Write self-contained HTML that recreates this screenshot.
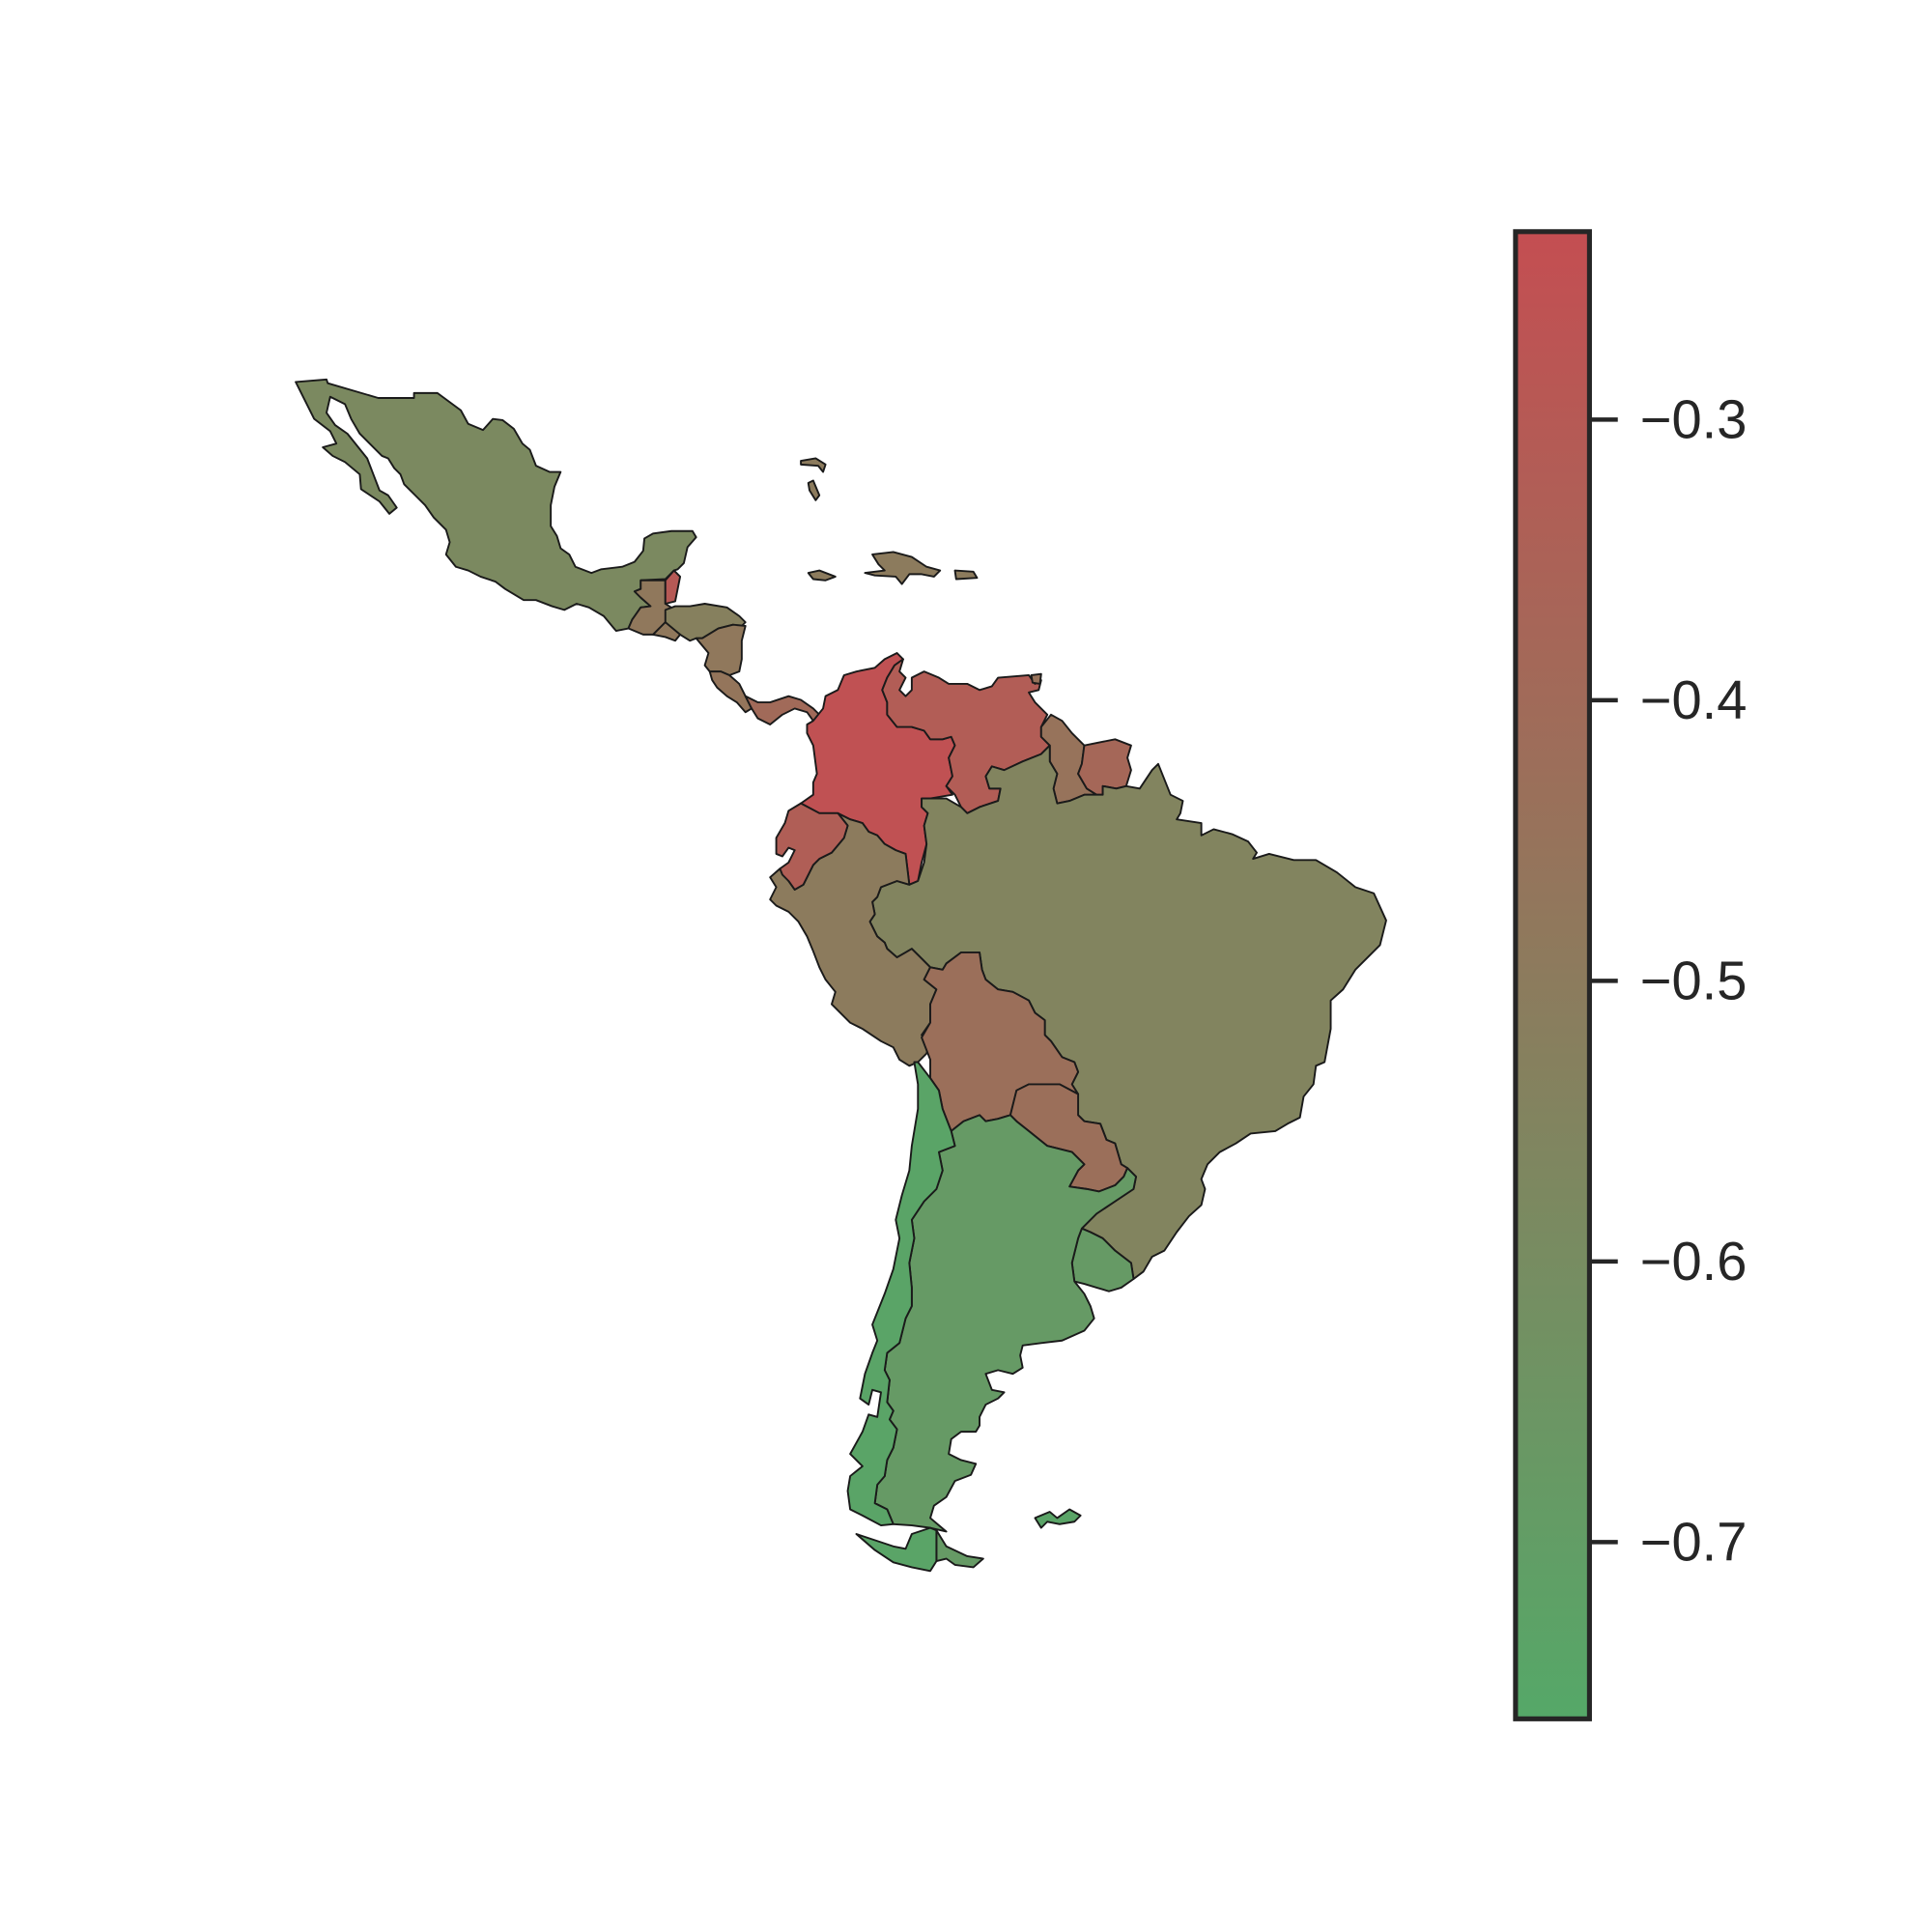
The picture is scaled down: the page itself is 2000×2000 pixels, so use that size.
<!DOCTYPE html>
<html><head><meta charset="utf-8"><style>html,body{margin:0;padding:0;background:#fff}svg{display:block}</style></head>
<body>
<svg id="chart" width="2000" height="2000" viewBox="0 0 1568 1568" xmlns="http://www.w3.org/2000/svg">
<defs><linearGradient id="cbg" x1="0" y1="1" x2="0" y2="0"><stop offset="0" stop-color="#55a868"/><stop offset="1" stop-color="#c44e52"/></linearGradient></defs>
<rect width="1568" height="1568" fill="#fff"/>
<g id="map"></g>
<g id="cbar"></g>
</svg>
<script>
const countries = ["Mexico","Guatemala","Belize","Honduras","El Salvador","Nicaragua","Costa Rica","Panama","Colombia","Venezuela","Guyana","Suriname","Brazil","Peru","Ecuador","Bolivia","Paraguay","Uruguay","Argentina","Argentina TdF","Chile","Chile TdF","Falklands","Bahamas 1","Bahamas 2","Jamaica","Hispaniola","Puerto Rico","Trinidad"];
const values = [-0.58,-0.48,-0.30,-0.53,-0.48,-0.48,-0.46,-0.40,-0.25,-0.32,-0.45,-0.38,-0.55,-0.50,-0.33,-0.43,-0.43,-0.68,-0.68,-0.68,-0.74,-0.74,-0.74,-0.50,-0.50,-0.50,-0.50,-0.50,-0.45];
const tickValues = [-0.3,-0.4,-0.5,-0.6,-0.7];
const tickLabels = ["\u22120.3","\u22120.4","\u22120.5","\u22120.6","\u22120.7"];
const vmin = -0.763, vmax = -0.233;

const shapes = {
"Mexico":"240,310 265,308 266,311 307,323 336,323 336,319 355,319 374,333 380,344 392,349 400,340 408,341 417,348 424,360 430,365 435,378 446,383 455,383 450,395 447,410 447,427 452,435 455,445 462,450 467,460 480,465 488,462 505,460 515,456 522,447 523,437 530,433 545,431 562,431 565,436 558,444 555,457 550,462 547,463 540,470 520,471 520,478 515,480 520,485 528,492 520,493 513,503 510,510 500,512 490,500 478,493 468,490 458,495 448,492 435,487 425,487 410,478 402,472 390,468 380,463 370,460 362,450 365,440 362,430 352,420 345,410 337,402 328,393 325,385 320,380 315,372 310,370 300,360 292,352 285,340 280,328 268,322 265,335 272,345 282,352 290,362 298,372 303,385 308,398 315,402 322,412 316,417 308,407 293,397 292,385 280,375 270,370 262,363 273,360 268,350 255,340",
"Guatemala":"520,471 540,471 540,490 548,495 540,505 530,515 522,515 510,510 513,503 520,493 528,492 520,485 515,480 520,478",
"Belize":"540,471 547,463 552,468 548,488 540,490",
"Honduras":"540,495 548,492 560,492 572,490 590,493 600,500 605,505 600,510 595,507 583,510 570,518 565,518 560,520 552,515 545,510 540,505",
"El Salvador":"530,515 540,505 552,515 548,520 540,517",
"Nicaragua":"565,518 570,518 583,510 595,507 605,508 602,520 602,535 600,545 592,548 585,545 576,545 572,540 575,530",
"Costa Rica":"576,545 585,545 592,548 600,555 605,565 610,575 605,578 598,570 590,565 582,558 578,552",
"Panama":"605,565 615,570 625,570 640,565 650,568 660,575 668,583 660,585 655,578 645,575 635,580 625,588 615,583 610,575",
"Colombia":"660,585 668,575 670,565 680,560 685,548 695,545 710,542 718,535 728,530 733,535 726,540 720,550 716,560 720,570 720,580 728,590 740,590 750,593 755,600 765,600 772,598 775,605 770,615 773,630 768,638 773,645 755,648 748,648 748,655 753,660 750,670 752,685 748,700 745,715 738,718 735,693 727,690 718,685 712,678 705,675 700,668 690,665 680,660 665,665 655,658 650,652 660,645 660,635 663,628 660,605 655,595 655,588",
"Venezuela":"720,550 726,540 733,535 730,545 735,550 730,560 735,565 740,560 740,550 750,545 762,550 770,555 785,555 795,560 805,557 810,550 835,548 840,555 845,552 843,560 835,562 840,570 850,580 845,590 845,598 852,605 845,612 830,618 815,625 805,622 800,630 803,640 812,640 810,650 795,655 785,660 780,655 775,645 768,638 773,630 770,615 775,605 772,598 765,600 755,600 750,593 740,590 728,590 720,580 720,570 716,560",
"Guyana":"845,590 853,580 862,585 870,595 880,605 878,620 875,628 882,640 890,645 880,645 868,650 858,652 855,640 858,628 852,618 852,605 845,598",
"Suriname":"880,605 895,602 905,600 918,605 915,615 918,625 914,638 906,640 895,638 895,645 890,645 882,640 875,628 878,620",
"Brazil":"738,718 745,715 750,700 752,685 750,670 753,660 748,655 748,648 768,648 780,655 785,660 795,655 810,650 812,640 803,640 800,630 805,622 815,625 830,618 845,612 852,605 852,618 858,628 855,640 858,652 868,650 880,645 890,645 895,645 895,638 906,640 914,638 925,640 935,625 940,620 950,645 960,650 958,660 955,665 975,668 975,678 985,673 1000,677 1013,683 1020,692 1017,697 1030,693 1050,698 1068,698 1085,708 1100,720 1115,725 1125,747 1120,767 1100,787 1090,803 1080,812 1080,835 1075,862 1068,865 1066,880 1058,890 1055,907 1045,912 1035,918 1015,920 1003,928 990,935 980,945 975,957 978,965 975,978 965,987 955,1000 945,1015 935,1020 928,1032 920,1038 918,1025 905,1015 895,1005 885,1000 878,997 890,985 905,975 920,965 922,955 915,948 910,945 905,928 898,925 893,912 880,910 875,905 875,888 870,880 875,870 872,862 862,858 853,845 848,840 848,828 840,822 835,812 822,805 810,803 800,795 797,787 795,773 780,773 768,782 765,787 755,785 748,778 740,770 735,773 728,777 720,770 718,765 712,760 706,748 710,742 708,732 712,728 715,720 728,715",
"Peru":"650,652 655,658 665,665 680,660 690,665 700,668 705,675 712,678 718,685 727,690 735,693 738,718 728,715 715,720 712,728 708,732 710,742 706,748 712,760 718,765 720,770 728,777 735,773 740,770 748,778 755,785 750,795 760,803 755,815 755,830 748,840 755,845 752,855 745,862 738,865 730,860 725,850 715,845 700,835 690,830 680,820 675,815 678,805 670,795 665,785 660,772 655,760 648,748 640,740 630,735 625,730 630,720 625,712 633,705 640,715 645,722 652,718 660,702 665,697 675,692 685,680 688,670 680,660 665,660",
"Ecuador":"630,693 630,680 637,668 640,658 650,652 665,660 680,660 688,670 685,680 675,692 665,697 660,702 652,718 645,722 640,715 635,710 633,705 640,700 645,690 640,688 635,695",
"Bolivia":"755,785 765,787 768,782 780,773 795,773 797,787 800,795 810,803 822,805 835,812 840,822 848,828 848,840 853,845 862,858 872,862 875,870 870,880 875,888 860,880 835,880 825,885 820,905 810,908 800,910 795,905 782,910 772,918 765,900 762,885 755,875 755,860 748,842 755,830 755,815 760,803 750,795",
"Paraguay":"825,885 835,880 860,880 875,888 875,905 880,910 893,912 898,925 905,928 910,945 915,948 912,955 905,962 892,967 882,965 868,963 875,950 880,945 870,935 850,930 835,918 825,910 820,905",
"Uruguay":"878,997 885,1000 895,1005 905,1015 918,1025 920,1038 910,1045 900,1048 890,1045 880,1042 872,1040 870,1025 875,1005",
"Argentina":"772,918 782,910 795,905 800,910 810,908 820,905 825,910 835,918 850,930 870,935 880,945 875,950 868,963 882,965 892,967 905,962 912,955 915,948 922,955 920,965 905,975 890,985 878,997 875,1005 870,1025 872,1040 880,1050 885,1060 888,1070 880,1080 862,1088 845,1090 830,1092 828,1100 830,1110 822,1115 810,1112 800,1115 805,1128 815,1130 810,1135 800,1140 795,1150 795,1157 792,1162 780,1162 772,1168 770,1180 780,1185 792,1188 788,1197 775,1202 768,1215 758,1222 755,1232 768,1243 755,1240 740,1238 725,1237 720,1225 710,1220 712,1205 718,1198 720,1185 725,1175 728,1160 722,1152 725,1145 720,1138 722,1120 718,1112 720,1098 730,1090 735,1070 740,1060 740,1045 738,1025 742,1005 740,990 750,975 760,965 765,950 762,935 775,930",
"Argentina TdF":"760,1242 768,1255 785,1263 798,1265 790,1272 775,1270 768,1265 760,1267",
"Chile":"742,862 745,862 755,875 762,885 765,900 772,918 775,930 762,935 765,950 760,965 750,975 740,990 742,1005 738,1025 740,1045 740,1060 735,1070 730,1090 720,1098 718,1112 722,1120 720,1138 725,1145 722,1152 728,1160 725,1175 720,1185 718,1198 712,1205 710,1220 720,1225 725,1237 715,1238 700,1230 690,1225 688,1210 690,1198 700,1190 690,1180 700,1162 705,1148 712,1150 715,1130 708,1128 705,1140 698,1135 702,1115 708,1098 712,1088 708,1075 718,1050 725,1030 730,1005 727,990 732,970 738,950 740,930 745,900 745,880",
"Chile TdF":"695,1245 710,1250 725,1255 735,1257 740,1245 755,1240 760,1242 760,1267 755,1275 740,1272 725,1268 710,1258",
"Falklands":"840,1232 852,1227 858,1232 868,1225 877,1230 872,1235 860,1237 850,1235 845,1240",
"Bahamas 1":"650,374 662,372 670,377 668,383 664,378 650,377",
"Bahamas 2":"656,392 660,390 665,402 662,406 657,398",
"Jamaica":"656,465 665,463 678,468 670,471 660,470",
"Hispaniola":"708,450 725,448 740,452 752,460 763,463 758,468 748,466 738,466 732,474 727,468 710,467 702,465 718,463 713,458",
"Puerto Rico":"775,463 790,464 793,469 776,470",
"Trinidad":"837,548 845,547 844,555 838,554"
};

const NS = "http://www.w3.org/2000/svg";
function colorOf(v){
  let t = (v - vmin) / (vmax - vmin); t = Math.max(0, Math.min(1, t));
  const a=[0x55,0xa8,0x68], b=[0xc4,0x4e,0x52];
  return "rgb(" + a.map((c,i)=>Math.round(c+(b[i]-c)*t)).join(",") + ")";
}
const cbTop = 188, cbBot = 1395;
function yScale(v){ return cbBot - (v - vmin) / (vmax - vmin) * (cbBot - cbTop); }

const map = document.getElementById("map");
countries.forEach((name, i) => {
  const p = document.createElementNS(NS, "polygon");
  p.setAttribute("points", shapes[name]);
  p.setAttribute("fill", colorOf(values[i]));
  p.setAttribute("stroke", "#1a1a1a");
  p.setAttribute("stroke-width", "1.5");
  p.setAttribute("stroke-linejoin", "round");
  
  
  map.appendChild(p);
});

const cb = document.getElementById("cbar");
const r = document.createElementNS(NS, "rect");
r.setAttribute("x", 1230); r.setAttribute("y", cbTop); r.setAttribute("width", 60); r.setAttribute("height", cbBot - cbTop);
r.setAttribute("fill", "url(#cbg)"); r.setAttribute("stroke", "#262626"); r.setAttribute("stroke-width", "4");


cb.appendChild(r);
tickValues.forEach((v, i) => {
  const y = yScale(v);
  const l = document.createElementNS(NS, "line");
  l.setAttribute("x1", 1290); l.setAttribute("x2", 1313); l.setAttribute("y1", y); l.setAttribute("y2", y);
  l.setAttribute("stroke", "#262626"); l.setAttribute("stroke-width", "3.5");
  
  
  cb.appendChild(l);
  const t = document.createElementNS(NS, "text");
  t.setAttribute("x", 1331); t.setAttribute("y", y + 15);
  t.setAttribute("font-family", "Liberation Sans, Arial, sans-serif");
  t.setAttribute("font-size", "44"); t.setAttribute("fill", "#262626");
  t.textContent = tickLabels[i];
  
  
  cb.appendChild(t);
});
</script>
</body></html>
